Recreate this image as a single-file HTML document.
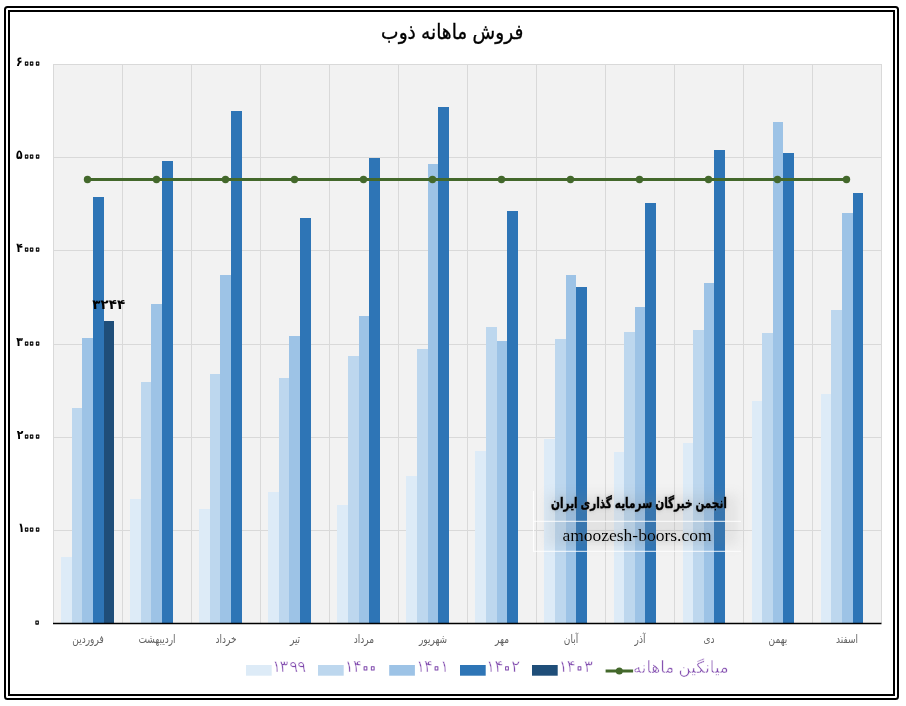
<!DOCTYPE html>
<html lang="fa">
<head>
<meta charset="utf-8">
<title>فروش ماهانه ذوب</title>
<style>
html,body{margin:0;padding:0;background:#fff;}
body{width:906px;height:706px;overflow:hidden;}
svg{display:block;}
text{font-family:"Liberation Sans","DejaVu Sans",sans-serif;}
.title{font-size:18.6px;fill:#000;stroke:#000;stroke-width:0.3px;}
.ylab{font-size:12.9px;font-weight:bold;fill:#000;}
.xlab{font-size:10.5px;fill:#636363;}
.leg{font-size:16.5px;fill:#7F48AD;stroke:#fff;stroke-width:0.45px;}
.z{font-size:17px;fill:#fff;stroke:#000;stroke-width:1.25px;stroke-linejoin:round;}
.lz{font-size:26px;fill:#fff;stroke:#7F48AD;stroke-width:1px;stroke-linejoin:round;}
.dlab{font-size:13.5px;font-weight:bold;fill:#000;}
.wm1{font-size:13px;font-weight:bold;fill:#000;}
.wm2{font-family:"Liberation Serif","DejaVu Serif",serif;font-size:17.5px;fill:#000;}
</style>
</head>
<body>
<svg width="906" height="706" viewBox="0 0 906 706">
<defs>
<filter id="blur" x="-20%" y="-40%" width="140%" height="180%"><feGaussianBlur stdDeviation="6"/></filter>
<filter id="glow" x="-10%" y="-60%" width="120%" height="220%"><feGaussianBlur in="SourceAlpha" stdDeviation="2" result="b"/><feFlood flood-color="#777" flood-opacity="0.38"/><feComposite in2="b" operator="in" result="s"/><feMerge><feMergeNode in="s"/><feMergeNode in="SourceGraphic"/></feMerge></filter>
</defs>
<rect x="0" y="0" width="906" height="706" fill="#fff"/>
<rect x="5" y="7" width="893" height="692" rx="2.5" ry="2.5" fill="none" stroke="#000" stroke-width="2"/>
<rect x="9" y="11" width="885" height="684" fill="#fff" stroke="#000" stroke-width="2"/>
<rect x="53.0" y="64.0" width="829.0" height="559.0" fill="#F2F2F2"/>
<g stroke="#D9D9D9" stroke-width="1" fill="none">
<line x1="53.0" y1="530.5" x2="882.0" y2="530.5"/>
<line x1="53.0" y1="437.5" x2="882.0" y2="437.5"/>
<line x1="53.0" y1="344.5" x2="882.0" y2="344.5"/>
<line x1="53.0" y1="250.5" x2="882.0" y2="250.5"/>
<line x1="53.0" y1="157.5" x2="882.0" y2="157.5"/>
<line x1="53.0" y1="64.5" x2="882.0" y2="64.5"/>
<line x1="53.5" y1="64.0" x2="53.5" y2="623.0"/>
<line x1="122.5" y1="64.0" x2="122.5" y2="623.0"/>
<line x1="191.5" y1="64.0" x2="191.5" y2="623.0"/>
<line x1="260.5" y1="64.0" x2="260.5" y2="623.0"/>
<line x1="329.5" y1="64.0" x2="329.5" y2="623.0"/>
<line x1="398.5" y1="64.0" x2="398.5" y2="623.0"/>
<line x1="467.5" y1="64.0" x2="467.5" y2="623.0"/>
<line x1="536.5" y1="64.0" x2="536.5" y2="623.0"/>
<line x1="605.5" y1="64.0" x2="605.5" y2="623.0"/>
<line x1="674.5" y1="64.0" x2="674.5" y2="623.0"/>
<line x1="743.5" y1="64.0" x2="743.5" y2="623.0"/>
<line x1="812.5" y1="64.0" x2="812.5" y2="623.0"/>
<line x1="881.5" y1="64.0" x2="881.5" y2="623.0"/>
</g>
<g><rect x="61" y="557" width="11" height="66" fill="#DDEBF7"/><rect x="72" y="408" width="10" height="215" fill="#BDD7EE"/><rect x="82" y="338" width="11" height="285" fill="#9DC3E6"/><rect x="93" y="197" width="11" height="426" fill="#2E75B6"/><rect x="104" y="321" width="10" height="302" fill="#1F4E79"/></g>
<g><rect x="130" y="499" width="11" height="124" fill="#DDEBF7"/><rect x="141" y="382" width="10" height="241" fill="#BDD7EE"/><rect x="151" y="304" width="11" height="319" fill="#9DC3E6"/><rect x="162" y="161" width="11" height="462" fill="#2E75B6"/></g>
<g><rect x="199" y="509" width="11" height="114" fill="#DDEBF7"/><rect x="210" y="374" width="10" height="249" fill="#BDD7EE"/><rect x="220" y="275" width="11" height="348" fill="#9DC3E6"/><rect x="231" y="111" width="11" height="512" fill="#2E75B6"/></g>
<g><rect x="268" y="492" width="11" height="131" fill="#DDEBF7"/><rect x="279" y="378" width="10" height="245" fill="#BDD7EE"/><rect x="289" y="336" width="11" height="287" fill="#9DC3E6"/><rect x="300" y="218" width="11" height="405" fill="#2E75B6"/></g>
<g><rect x="337" y="505" width="11" height="118" fill="#DDEBF7"/><rect x="348" y="356" width="11" height="267" fill="#BDD7EE"/><rect x="359" y="316" width="10" height="307" fill="#9DC3E6"/><rect x="369" y="158" width="11" height="465" fill="#2E75B6"/></g>
<g><rect x="406" y="476" width="11" height="147" fill="#DDEBF7"/><rect x="417" y="349" width="11" height="274" fill="#BDD7EE"/><rect x="428" y="164" width="10" height="459" fill="#9DC3E6"/><rect x="438" y="107" width="11" height="516" fill="#2E75B6"/></g>
<g><rect x="475" y="451" width="11" height="172" fill="#DDEBF7"/><rect x="486" y="327" width="11" height="296" fill="#BDD7EE"/><rect x="497" y="341" width="10" height="282" fill="#9DC3E6"/><rect x="507" y="211" width="11" height="412" fill="#2E75B6"/></g>
<g><rect x="544" y="439" width="11" height="184" fill="#DDEBF7"/><rect x="555" y="339" width="11" height="284" fill="#BDD7EE"/><rect x="566" y="275" width="10" height="348" fill="#9DC3E6"/><rect x="576" y="287" width="11" height="336" fill="#2E75B6"/></g>
<g><rect x="614" y="452" width="10" height="171" fill="#DDEBF7"/><rect x="624" y="332" width="11" height="291" fill="#BDD7EE"/><rect x="635" y="307" width="10" height="316" fill="#9DC3E6"/><rect x="645" y="203" width="11" height="420" fill="#2E75B6"/></g>
<g><rect x="683" y="443" width="10" height="180" fill="#DDEBF7"/><rect x="693" y="330" width="11" height="293" fill="#BDD7EE"/><rect x="704" y="283" width="10" height="340" fill="#9DC3E6"/><rect x="714" y="150" width="11" height="473" fill="#2E75B6"/></g>
<g><rect x="752" y="401" width="10" height="222" fill="#DDEBF7"/><rect x="762" y="333" width="11" height="290" fill="#BDD7EE"/><rect x="773" y="122" width="10" height="501" fill="#9DC3E6"/><rect x="783" y="153" width="11" height="470" fill="#2E75B6"/></g>
<g><rect x="821" y="394" width="10" height="229" fill="#DDEBF7"/><rect x="831" y="310" width="11" height="313" fill="#BDD7EE"/><rect x="842" y="213" width="11" height="410" fill="#9DC3E6"/><rect x="853" y="193" width="10" height="430" fill="#2E75B6"/></g>
<line x1="53.0" y1="623.5" x2="881.5" y2="623.5" stroke="#000" stroke-width="1.3"/>
<line x1="87.5" y1="179.5" x2="846.5" y2="179.5" stroke="#43682B" stroke-width="3"/>
<g fill="#43682B"><circle cx="87.5" cy="179.5" r="3.7"/><circle cx="156.5" cy="179.5" r="3.7"/><circle cx="225.5" cy="179.5" r="3.7"/><circle cx="294.5" cy="179.5" r="3.7"/><circle cx="363.5" cy="179.5" r="3.7"/><circle cx="432.5" cy="179.5" r="3.7"/><circle cx="501.5" cy="179.5" r="3.7"/><circle cx="570.5" cy="179.5" r="3.7"/><circle cx="639.5" cy="179.5" r="3.7"/><circle cx="708.5" cy="179.5" r="3.7"/><circle cx="777.5" cy="179.5" r="3.7"/><circle cx="846.5" cy="179.5" r="3.7"/></g>
<text class="ylab" transform="translate(0 624.9) scale(0.84 1)" direction="ltr"><tspan class="z" x="39.06" y="2.0">۰</tspan></text>
<text class="ylab" transform="translate(0 531.9) scale(0.84 1)" direction="ltr"><tspan x="21.43" y="0">۱</tspan><tspan class="z" x="26.62 32.57 39.71" y="1.8">۰۰۰</tspan></text>
<text class="ylab" transform="translate(0 438.9) scale(0.84 1)" direction="ltr"><tspan x="19.99" y="0">۲</tspan><tspan class="z" x="26.62 32.57 39.71" y="1.8">۰۰۰</tspan></text>
<text class="ylab" transform="translate(0 345.9) scale(0.84 1)" direction="ltr"><tspan x="19.33" y="0">۳</tspan><tspan class="z" x="26.62 32.57 39.71" y="1.8">۰۰۰</tspan></text>
<text class="ylab" transform="translate(0 251.9) scale(0.84 1)" direction="ltr"><tspan x="19.46" y="0">۴</tspan><tspan class="z" x="26.62 32.57 39.71" y="1.8">۰۰۰</tspan></text>
<text class="ylab" transform="translate(0 158.9) scale(0.84 1)" direction="ltr"><tspan x="19.10" y="0">۵</tspan><tspan class="z" x="26.62 32.57 39.71" y="1.8">۰۰۰</tspan></text>
<text class="ylab" transform="translate(0 65.9) scale(0.84 1)" direction="ltr"><tspan x="19.16" y="0">۶</tspan><tspan class="z" x="26.62 32.57 39.71" y="1.8">۰۰۰</tspan></text>
<text class="xlab" transform="translate(88.0 643) scale(0.86 1.08)" text-anchor="middle">فروردین</text>
<text class="xlab" transform="translate(157.0 643) scale(0.86 1.08)" text-anchor="middle">اردیبهشت</text>
<text class="xlab" transform="translate(226.0 643) scale(0.86 1.08)" text-anchor="middle">خرداد</text>
<text class="xlab" transform="translate(295.0 643) scale(0.86 1.08)" text-anchor="middle">تیر</text>
<text class="xlab" transform="translate(364.0 643) scale(0.86 1.08)" text-anchor="middle">مرداد</text>
<text class="xlab" transform="translate(433.0 643) scale(0.86 1.08)" text-anchor="middle">شهریور</text>
<text class="xlab" transform="translate(502.0 643) scale(0.86 1.08)" text-anchor="middle">مهر</text>
<text class="xlab" transform="translate(571.0 643) scale(0.86 1.08)" text-anchor="middle">آبان</text>
<text class="xlab" transform="translate(640.0 643) scale(0.86 1.08)" text-anchor="middle">آذر</text>
<text class="xlab" transform="translate(709.0 643) scale(0.86 1.08)" text-anchor="middle">دی</text>
<text class="xlab" transform="translate(778.0 643) scale(0.86 1.08)" text-anchor="middle">بهمن</text>
<text class="xlab" transform="translate(847.0 643) scale(0.86 1.08)" text-anchor="middle">اسفند</text>
<text class="title" transform="translate(452.2 38.6) scale(1 1.1)" text-anchor="middle">فروش ماهانه ذوب</text>
<text class="dlab" x="108.7" y="309.2" text-anchor="middle">۳۲۴۴</text>
<rect x="246" y="665" width="25.7" height="10.7" fill="#DDEBF7"/><text class="leg" direction="ltr"><tspan x="272.20" y="672">۱</tspan><tspan x="279.48" y="672">۳</tspan><tspan x="289.30" y="672">۹</tspan><tspan x="297.30" y="672">۹</tspan></text>
<rect x="318" y="665" width="25.7" height="10.7" fill="#BDD7EE"/><text class="leg" direction="ltr"><tspan x="344.70" y="672">۱</tspan><tspan x="353.10" y="672">۴</tspan><tspan class="lz" x="358.41" y="676.1">۰</tspan><tspan class="lz" x="365.71" y="676.1">۰</tspan></text>
<rect x="389.2" y="665" width="25.7" height="10.7" fill="#9DC3E6"/><text class="leg" direction="ltr"><tspan x="416.30" y="672">۱</tspan><tspan x="424.10" y="672">۴</tspan><tspan class="lz" x="429.61" y="676.1">۰</tspan><tspan x="440.35" y="672">۱</tspan></text>
<rect x="460" y="665" width="25.7" height="10.7" fill="#2E75B6"/><text class="leg" direction="ltr"><tspan x="486.35" y="672">۱</tspan><tspan x="494.45" y="672">۴</tspan><tspan class="lz" x="500.11" y="676.1">۰</tspan><tspan x="511.20" y="672">۲</tspan></text>
<rect x="532" y="665" width="25.7" height="10.7" fill="#1F4E79"/><text class="leg" direction="ltr"><tspan x="558.85" y="672">۱</tspan><tspan x="566.85" y="672">۴</tspan><tspan class="lz" x="572.51" y="676.1">۰</tspan><tspan x="583.88" y="672">۳</tspan></text>
<line x1="605.6" y1="671" x2="633.1" y2="671" stroke="#43682B" stroke-width="3"/><circle cx="619.3" cy="671" r="3.5" fill="#43682B"/>
<text class="leg" x="633" y="672.5" text-anchor="start" direction="ltr">میانگین ماهانه</text>
<g>
<rect x="546" y="494" width="192" height="52" fill="#808080" opacity="0.12" filter="url(#blur)"/>
<g stroke="#fff" stroke-width="1" fill="none" opacity="0.9">
<line x1="533.5" y1="491" x2="533.5" y2="551.5"/>
<line x1="533" y1="521.3" x2="741" y2="521.3"/>
<line x1="533" y1="551.3" x2="741" y2="551.3"/>
</g>
<text class="wm1" transform="translate(639 508.4) scale(0.806 1.08)" text-anchor="middle" stroke="#000" stroke-width="0.55" filter="url(#glow)">انجمن خبرگان سرمایه گذاری ایران</text>
<text class="wm2" x="637" y="540.6" text-anchor="middle" filter="url(#glow)">amoozesh-boors.com</text>
</g>
</svg>
</body>
</html>
